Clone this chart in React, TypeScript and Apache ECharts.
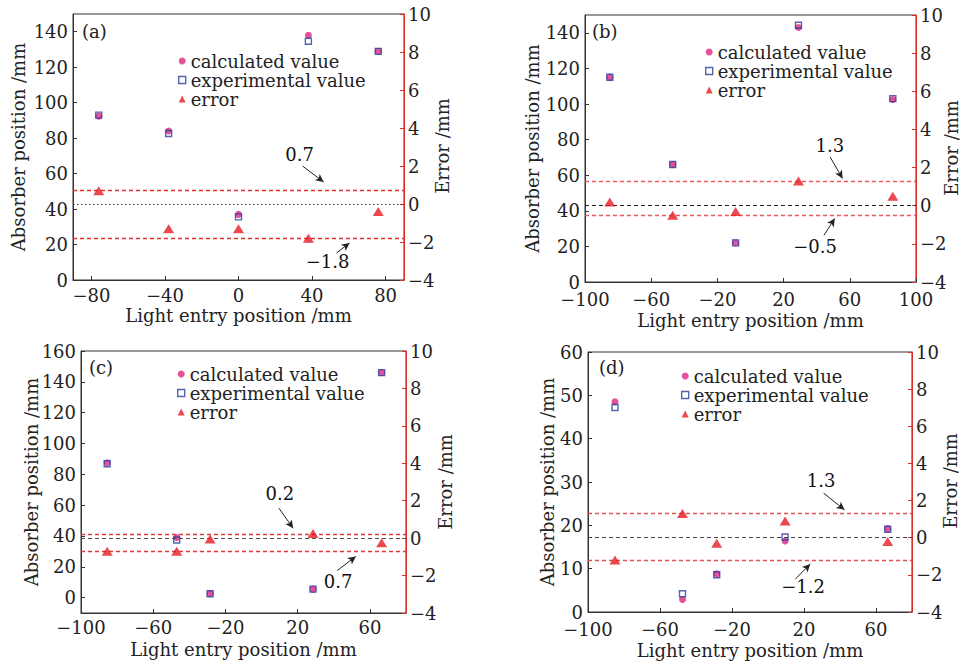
import React, { useEffect, useRef } from 'react';
import * as echarts from 'echarts';

const FONT = 'DejaVu Serif';
const TXT = '#222';

const NAME_CALC = 'calculated value';
const NAME_EXP = 'experimental value';
const NAME_ERR = 'error';

// ---- panel (a)
const xA = [-76, -38, 0, 38, 76];
const calcA = [92.4, 84, 37, 138, 129];
const expA = [93, 82.6, 35.6, 134.6, 128.9];
const errA = [0.7, -1.3, -1.3, -1.8, -0.4];
const boundsA = [0.7, -1.8];
const notesA = ['0.7', '−1.8'];

// ---- panel (b)
const xB = [-85, -47, -9, 29, 86];
const calcB = [115, 66, 22, 143, 102.5];
const expB = [115, 66, 22, 144.2, 103];
const errB = [0.2, -0.5, -0.3, 1.3, 0.5];
const boundsB = [1.3, -0.5];
const notesB = ['1.3', '−0.5'];

// ---- panel (c)
const xC = [-85.5, -47, -28.5, 28.5, 66.5];
const calcC = [87.5, 39, 2.6, 5.5, 146];
const expC = [86.8, 37.4, 2.5, 5.5, 146];
const errC = [-0.7, -0.7, -0.05, 0.25, -0.25];
const boundsC = [0.2, -0.7];
const notesC = ['0.2', '0.7'];

// ---- panel (d)
const xD = [-85, -47.5, -28.5, 9.5, 66.5];
const calcD = [48.5, 2.9, 8.8, 16.4, 19.2];
const expD = [47.2, 4.2, 8.6, 17.3, 19.1];
const errD = [-1.2, 1.3, -0.3, 0.9, -0.2];
const boundsD = [1.3, -1.2];
const notesD = ['1.3', '−1.2'];

// ---- tick labels
const xTicksA = [-80, -40, 0, 40, 80];
const xTicksB = [-100, -60, -20, 20, 60, 100];
const xTicksCD = [-100, -60, -20, 20, 60];
const yTicksAB = [0, 20, 40, 60, 80, 100, 120, 140];
const yTicksC = [0, 20, 40, 60, 80, 100, 120, 140, 160];
const yTicksD = [0, 10, 20, 30, 40, 50, 60];
const errTicks = [-4, -2, 0, 2, 4, 6, 8, 10];

const RIGHT_TITLE = 'Error /mm';

const panels = [
  {
    tag: '(a)', x: xA, calc: calcA, exp: expA, err: errA, bounds: boundsA, notes: notesA,
    xTicks: xTicksA, yTicks: yTicksAB, xRange: [-90, 90], yRange: [0, 150],
    grid: { left: 73, top: 14, width: 331, height: 266 },
    legend: { left: 178, top: 52 }, tagPos: [82, 22], rightTitle: [442, 146],
    zeroType: [1.5, 2.5], zeroColor: '#333', boundColor: '#e0302f',
    noteAt: [[33.2, 2.63], [48.4, -3.0]],
    arrows: [[[34.8, 2.0], [46.3, 1.16]], [[53.3, -2.58], [60.4, -2.05]]],
    gapL: 46, gapX: 26, xMargin: 7,
  },
  {
    tag: '(b)', x: xB, calc: calcB, exp: expB, err: errB, bounds: boundsB, notes: notesB,
    xTicks: xTicksB, yTicks: yTicksAB, xRange: [-100, 100], yRange: [0, 150],
    grid: { left: 585, top: 15, width: 331, height: 267 },
    legend: { left: 705, top: 43 }, tagPos: [592, 22], rightTitle: [951, 148],
    zeroType: [4, 3], zeroColor: '#222', boundColor: '#e85a5a',
    noteAt: [[47.9, 3.18], [39, -2.16]],
    arrows: [[[48.1, 2.56], [55.6, 1.43]], [[44.4, -1.55], [50.9, -0.67]]],
    gapL: 44, gapX: 29, xMargin: 9,
  },
  {
    tag: '(c)', x: xC, calc: calcC, exp: expC, err: errC, bounds: boundsC, notes: notesC,
    xTicks: xTicksCD, yTicks: yTicksC, xRange: [-100, 80], yRange: [-10, 160],
    grid: { left: 81, top: 351, width: 325, height: 262 },
    legend: { left: 177, top: 365 }, tagPos: [89, 358], rightTitle: [445, 482],
    zeroType: [4, 3], zeroColor: '#555', boundColor: '#e03a3a',
    noteAt: [[10.1, 2.4], [42.4, -2.31]],
    arrows: [[[9.6, 1.6], [17.5, 0.53]], [[41.9, -1.73], [52.2, -0.98]]],
    gapL: 41, gapX: 27, xMargin: 6,
  },
  {
    tag: '(d)', x: xD, calc: calcD, exp: expD, err: errD, bounds: boundsD, notes: notesD,
    xTicks: xTicksCD, yTicks: yTicksD, xRange: [-100, 80], yRange: [0, 60],
    grid: { left: 588, top: 352, width: 324, height: 260 },
    legend: { left: 681, top: 367 }, tagPos: [599, 358], rightTitle: [950, 481],
    zeroType: [4, 3], zeroColor: '#444', boundColor: '#e45050',
    noteAt: [[29.5, 3.07], [19.5, -2.65]],
    arrows: [[[30.9, 2.4], [42.5, 1.5]], [[15.2, -2.22], [23.5, -1.42]]],
    gapL: 32, gapX: 29, xMargin: 9,
  },
];

const fmt = (v: number) => String(v).replace('-', '−');
const zip = (xs: number[], ys: number[]) => xs.map((x, i) => [x, ys[i]]);

function buildOption() {
  const grid: any[] = [];
  const xAxis: any[] = [];
  const yAxis: any[] = [];
  const series: any[] = [];
  const legend: any[] = [];
  const graphic: any[] = [];

  panels.forEach((p, i) => {
    grid.push({ ...p.grid, show: true, borderColor: '#333', borderWidth: 1, backgroundColor: 'transparent' });
    xAxis.push({
      type: 'value', gridIndex: i, min: p.xRange[0], max: p.xRange[1],
      name: 'Light entry position /mm', nameLocation: 'middle', nameGap: p.gapX, nameMoveOverlap: false,
      nameTextStyle: { fontFamily: FONT, fontSize: 18, color: TXT },
      axisLine: { show: true, onZero: false, lineStyle: { color: '#333' } },
      axisTick: { show: true, inside: true, length: 4, customValues: p.xTicks, lineStyle: { color: '#333' } },
      axisLabel: { customValues: p.xTicks, formatter: fmt, fontFamily: FONT, fontSize: 18, lineHeight: 16, color: TXT, margin: p.xMargin },
      splitLine: { show: false },
    });
    yAxis.push({
      type: 'value', gridIndex: i, position: 'left', min: p.yRange[0], max: p.yRange[1],
      name: 'Absorber position /mm', nameLocation: 'middle', nameRotate: 90, nameGap: p.gapL, nameMoveOverlap: false,
      nameTextStyle: { fontFamily: FONT, fontSize: 18, color: TXT },
      axisLine: { show: true, onZero: false, lineStyle: { color: '#333' } },
      axisTick: { show: true, inside: true, length: 4, customValues: p.yTicks, lineStyle: { color: '#333' } },
      axisLabel: { customValues: p.yTicks, formatter: fmt, fontFamily: FONT, fontSize: 18, lineHeight: 16, color: TXT, margin: 5 },
      splitLine: { show: false },
    });
    yAxis.push({
      type: 'value', gridIndex: i, position: 'right', min: -4, max: 10,
      axisLine: { show: true, onZero: false, lineStyle: { color: '#d9302c' } },
      axisTick: { show: true, inside: true, length: 4, customValues: errTicks, lineStyle: { color: '#d9302c' } },
      axisLabel: { customValues: errTicks, formatter: fmt, fontFamily: FONT, fontSize: 18, lineHeight: 16, color: TXT, margin: 4 },
      splitLine: { show: false },
    });

    // zero reference line
    series.push({
      type: 'scatter', name: 'zero', xAxisIndex: i, yAxisIndex: 2 * i + 1, data: [],
      silent: true, z: 2,
      markLine: {
        silent: true, symbol: 'none', label: { show: false },
        lineStyle: { color: p.zeroColor, type: p.zeroType, width: 1.1 },
        data: [{ yAxis: 0 }],
      },
    });
    series.push({
      type: 'scatter', name: NAME_CALC, xAxisIndex: i, yAxisIndex: 2 * i,
      symbol: 'circle', symbolSize: 7, itemStyle: { color: '#e0267f' },
      data: zip(p.x, p.calc), z: 3,
    });
    series.push({
      type: 'scatter', name: NAME_EXP, xAxisIndex: i, yAxisIndex: 2 * i,
      symbol: 'rect', symbolSize: 6,
      itemStyle: { color: 'rgba(255,255,255,0)', borderColor: '#2a3d9e', borderWidth: 1.4 },
      data: zip(p.x, p.exp), z: 4,
    });
    series.push({
      type: 'scatter', name: NAME_ERR, xAxisIndex: i, yAxisIndex: 2 * i + 1,
      symbol: 'triangle', symbolSize: [11, 9], itemStyle: { color: '#e31b23' },
      data: zip(p.x, p.err), z: 5,
      markLine: {
        silent: true, symbol: 'none', label: { show: false },
        lineStyle: { color: p.boundColor, type: [4, 3], width: 1.3 },
        data: [{ yAxis: p.bounds[0] }, { yAxis: p.bounds[1] }],
      },
    });
    series.push({
      type: 'scatter', name: 'note', xAxisIndex: i, yAxisIndex: 2 * i + 1,
      data: [], silent: true, z: 6,
      markPoint: {
        silent: true, symbol: 'circle', symbolSize: 0,
        itemStyle: { color: 'rgba(0,0,0,0)' },
        label: { show: true, position: 'inside', fontFamily: FONT, fontSize: 18, color: '#111', textBorderWidth: 0 },
        data: p.noteAt.map((c, k) => ({ coord: c, value: p.notes[k], label: { formatter: p.notes[k] } })),
      },
      markLine: {
        silent: true, symbol: ['none', 'arrow'], symbolSize: [6, 8], label: { show: false },
        lineStyle: { color: '#222', type: 'solid', width: 1 },
        data: p.arrows.map((a) => [{ coord: a[0] }, { coord: a[1] }]),
      },
    });

    legend.push({
      left: p.legend.left, top: p.legend.top, orient: 'vertical', padding: 0,
      itemWidth: 7, itemHeight: 7, itemGap: 1, selectedMode: false,
      textStyle: { fontFamily: FONT, fontSize: 18, color: TXT, lineHeight: 18 },
      data: [
        { name: NAME_CALC, icon: 'circle', itemStyle: { color: '#e0267f' } },
        { name: NAME_EXP, icon: 'rect', itemStyle: { color: 'rgba(255,255,255,0)', borderColor: '#2a3d9e', borderWidth: 1.4 } },
        { name: NAME_ERR, icon: 'triangle', itemStyle: { color: '#e31b23' } },
      ],
    });

    graphic.push({
      type: 'text', left: p.tagPos[0], top: p.tagPos[1],
      style: { text: p.tag, font: `18px "${FONT}"`, fill: TXT },
    });
    graphic.push({
      type: 'text', x: p.rightTitle[0], y: p.rightTitle[1], rotation: Math.PI / 2,
      style: { text: RIGHT_TITLE, font: `18px "${FONT}"`, fill: TXT, align: 'center', verticalAlign: 'middle' },
    });
  });

  return {
    animation: false,
    backgroundColor: '#fff',
    textStyle: { fontFamily: FONT },
    grid, xAxis, yAxis, series, legend, graphic,
  };
}

export default function App() {
  const ref = useRef<HTMLDivElement>(null);
  useEffect(() => {
    if (!ref.current) return;
    const chart = echarts.init(ref.current, undefined, { renderer: 'svg' });
    chart.setOption(buildOption() as any);
    return () => chart.dispose();
  }, []);
  return (
    <div
      ref={ref}
      style={{ position: 'fixed', left: 0, top: 0, width: 960, height: 663, background: '#fff' }}
    />
  );
}
